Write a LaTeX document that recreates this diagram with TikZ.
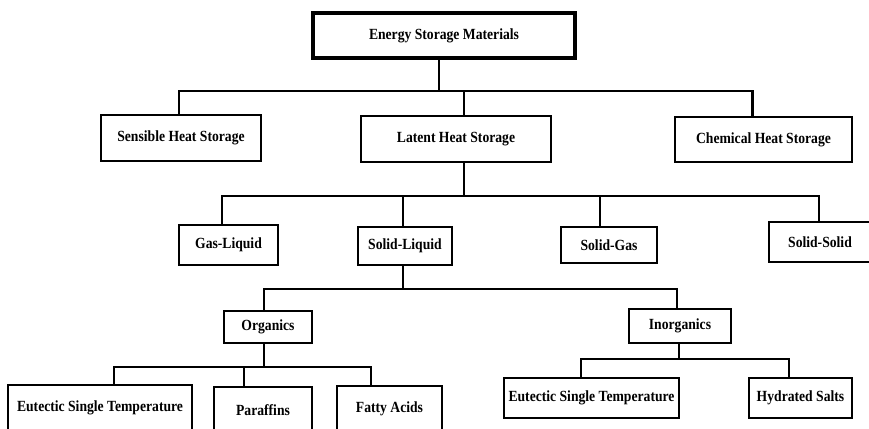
\documentclass[tikz,border=0pt]{standalone}
\usepackage{fontspec}
\setmainfont{Liberation Serif}[FakeStretch=0.88]
\usepackage{tikz}
\usetikzlibrary{calc}
\tikzset{%
  box/.style={draw,line width=2.5pt,align=center,inner sep=2pt,font=\fontsize{15.5}{18}\selectfont\bfseries},
  topbox/.style={box,line width=4pt},
  conn/.style={line width=2.2pt}%
}

\begin{document}
\begin{tikzpicture}[
    x=1pt, y=-1pt,
    line join=miter
]
\useasboundingbox (0,0) rectangle (869,428);
\clip (0,0) rectangle (869,428);

% Nodes
\node[topbox, minimum width=262pt, minimum height=45pt] (esm) at (444,35.5) {Energy Storage Materials};

\node[box, minimum width=160pt, minimum height=46pt] (sensible) at (181,138) {Sensible Heat Storage};
\node[box, minimum width=190pt, minimum height=46pt] (latent) at (456,139) {Latent Heat Storage};
\node[box, minimum width=177pt, minimum height=45pt] (chemical) at (763.5,139.5) {Chemical Heat Storage};

\node[box, minimum width=99pt, minimum height=40pt] (gasliq) at (228.5,245) {Gas-Liquid};
\node[box, minimum width=94pt, minimum height=38pt] (solliq) at (405,246) {Solid-Liquid};
\node[box, minimum width=96pt, minimum height=36pt] (solgas) at (609,245) {Solid-Gas};
\node[box, minimum width=102pt, minimum height=40pt] (solsol) at (820,242) {Solid-Solid};

\node[box, minimum width=88pt, minimum height=32pt] (organics) at (268,327) {Organics};
\node[box, minimum width=102pt, minimum height=34pt] (inorganics) at (680,326) {Inorganics};

\node[box, minimum width=184pt, minimum height=46pt] (eutorg) at (100,408) {Eutectic Single Temperature};
\node[box, minimum width=98pt, minimum height=46pt] (paraffins) at (263,410) {Paraffins};
\node[box, minimum width=105pt, minimum height=46pt] (fatty) at (389.5,409) {Fatty Acids};

\node[box, minimum width=175pt, minimum height=40pt] (eutinorg) at (591.5,398) {Eutectic Single Temperature};
\node[box, minimum width=103pt, minimum height=40pt] (hydrated) at (800.5,398) {Hydrated Salts};

% Bus levels
\coordinate (bus1) at (439,91);
\coordinate (bus2) at (464,196);
\coordinate (bus3) at (403,289);
\coordinate (bus4) at (264,367);
\coordinate (bus5) at (679,359);

% Connectors
\draw[conn] (esm.south -| bus1) -- (bus1);
\draw[conn] ([xshift=-2pt]sensible.north) |- (bus1) -| ([xshift=-11pt]chemical.north);
\draw[conn] ([xshift=8pt]latent.north) -- ([xshift=8pt]latent.north |- bus1);

\draw[conn] ([xshift=8pt]latent.south) -- (bus2);
\draw[conn] ([xshift=-6.5pt]gasliq.north) |- (bus2) -| ([xshift=-1pt]solsol.north);
\draw[conn] ([xshift=-2pt]solliq.north) -- ([xshift=-2pt]solliq.north |- bus2);
\draw[conn] ([xshift=-9pt]solgas.north) -- ([xshift=-9pt]solgas.north |- bus2);

\draw[conn] ([xshift=-2pt]solliq.south) -- (bus3);
\draw[conn] ([xshift=-4pt]organics.north) |- (bus3) -| ([xshift=-3pt]inorganics.north);

\draw[conn] ([xshift=-4pt]organics.south) -- (bus4);
\draw[conn] ([xshift=14pt]eutorg.north) |- (bus4) -| ([xshift=-18.5pt]fatty.north);
\draw[conn] ([xshift=-19pt]paraffins.north) -- ([xshift=-19pt]paraffins.north |- bus4);

\draw[conn] ([xshift=-1pt]inorganics.south) -- (bus5);
\draw[conn] ([xshift=-10.5pt]eutinorg.north) |- (bus5) -| ([xshift=-11.5pt]hydrated.north);

\end{tikzpicture}
\end{document}
